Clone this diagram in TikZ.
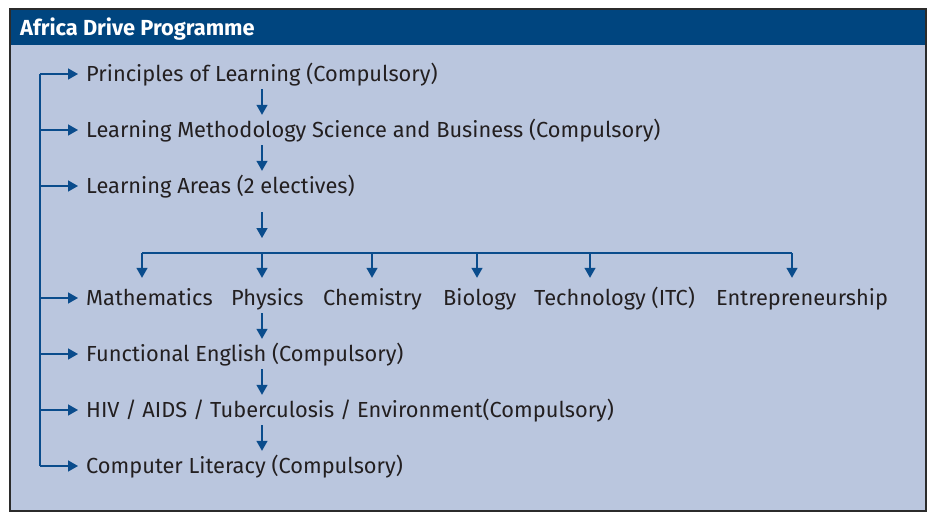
\documentclass[tikz,border=0pt]{standalone}
\usepackage{fontspec}
\setmainfont{Fira Sans}
\usetikzlibrary{arrows.meta,calc}
\definecolor{hdr}{HTML}{00457F}
\definecolor{panel}{HTML}{BAC6DE}
\definecolor{flow}{HTML}{0A4C8C}
\definecolor{ink}{HTML}{231F20}
\definecolor{frame}{HTML}{2B2B2B}
\begin{document}
\begin{tikzpicture}[x=1pt,y=-1pt,
  item/.style={anchor=west, inner xsep=0pt, inner ysep=7.5pt, text height=15pt,
    text depth=0pt, font=\fontsize{21.8}{26}\selectfont, text=ink},
  link/.style={draw=flow, line width=1.4pt},
  arr/.style={link, -{Triangle[width=11pt,length=10pt]}}]
\useasboundingbox (0,0) rectangle (928,516);
\fill[white] (0,0) rectangle (928,516);
% panel and header band
\fill[panel] (10,9) rectangle (926,511);
\fill[hdr] (10,9) rectangle (926,45);
\draw[frame, line width=1.2pt] (10,9) rectangle (926,511);
\node[anchor=base west, inner sep=0pt, text=white,
  font=\bfseries\fontsize{21.8}{26}\selectfont] (title) at (20,36) {Africa Drive Programme};

% course list
\node[item] (p1) at (86,74)  {Principles of Learning (Compulsory)};
\node[item] (p2) at (86,130) {Learning Methodology Science and Business (Compulsory)};
\node[item] (p3) at (86,186) {Learning Areas (2 electives)};
\node[item] (s1) at (86,298)  {Mathematics};
\node[item] (s2) at (231,298) {Physics};
\node[item] (s3) at (323,298) {Chemistry};
\node[item] (s4) at (443,298) {Biology};
\node[item] (s5) at (534,298) {Technology (ITC)};
\node[item] (s6) at (716,298) {Entrepreneurship};
\node[item] (p5) at (86,354) {Functional English (Compulsory)};
\node[item] (p6) at (86,410) {HIV / AIDS / Tuberculosis / Environment(Compulsory)};
\node[item] (p7) at (86,466) {Computer Literacy (Compulsory)};

% left feed bar
\coordinate (bar) at (40,0);
\draw[link] (p1 -| bar) -- (p7 -| bar);
\foreach \n in {p1,p2,p3,s1,p5,p6,p7}
  \draw[arr, shorten >=8pt] (\n -| bar) -- (\n.west);

% central sequence
\coordinate (col) at (262,0);
\draw[arr] (p1.south -| col) -- (p2.north -| col);
\draw[arr] (p2.south -| col) -- (p3.north -| col);
\coordinate (bus) at (262,253);
\draw[arr] ($(p3.south -| col)+(0,11)$) -- ($(bus)+(0,-15)$);

% elective distribution
\coordinate (b1) at (142,253);
\coordinate (b2) at (262,253);
\coordinate (b3) at (372,253);
\coordinate (b4) at (477,253);
\coordinate (b5) at (590,253);
\coordinate (b6) at (792,253);
\draw[link] (b1) -- (b6);
\foreach \b/\s in {b1/s1,b2/s2,b3/s3,b4/s4,b5/s5,b6/s6}
  \draw[arr, shorten >=5pt] (\b) -- (\b |- \s.north);

\draw[arr] (s2.south -| col) -- (p5.north -| col);
\draw[arr] (p5.south -| col) -- (p6.north -| col);
\draw[arr] (p6.south -| col) -- (p7.north -| col);
\end{tikzpicture}
\end{document}
